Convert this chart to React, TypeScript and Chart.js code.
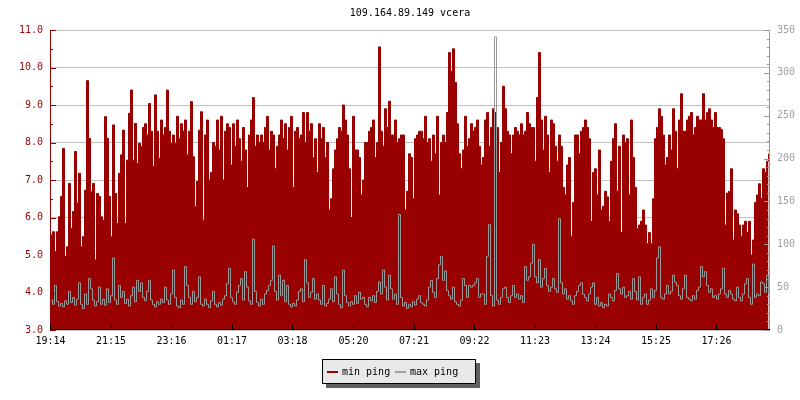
import React, { useEffect, useRef } from "react";
import { Chart, registerables } from "chart.js";

Chart.register(...registerables);

// ---- data -----------------------------------------------------------------
const title = "109.164.89.149 vcera";
const startLabel = "19:14";
const sampleMinutes = 4; // one sample every 4 minutes, 24 h window
const tickLabels = ["19:14", "21:15", "23:16", "01:17", "03:18", "05:20", "07:21", "09:22", "11:23", "13:24", "15:25", "17:26"];
const seriesNames = ["min ping", "max ping"];

// min ping (left axis), 19:14 -> 19:14 next day, split in five blocks
const minPingA = [5.53,5.62,5.09,5.62,6.02,6.56,7.84,4.96,5.22,6.91,5.71,6.16,7.76,6.38,7.18,5.22,5.49,6.73,9.65,8.11,6.69,6.91,4.87,6.64,6.56,6.02,5.93,8.69,8.11,6.56,5.49,8.47,6.64,5.84,7.18,7.67,8.33,5.84,7.53,8.78,9.4,7.53,8.51,7.44,7.98,7.89,8.4,8.5,8.2,9.04,8.3,7.36,9.27,8.3,7.58,8.6,8.2,8.4,9.4,8.3,7.98,8.2,7.98,8.7,8.1,8.5,8.3,8.6,7.67,8.3,9.09,7.62];
const minPingB = [6.29,6.96,8.33,8.82,5.93,8.2,8.6,7.0,7.2,8.0,7.9,8.6,7.8,8.7,7.0,8.3,8.5,8.4,7.4,8.5,7.9,8.6,8.1,7.5,8.4,7.8,6.8,8.2,8.6,9.2,7.9,8.2,8.0,8.2,8.0,8.4,8.7,7.8,8.3,8.2,7.3,7.9,8.2,8.6,8.1,8.5,7.8,8.4,8.7,6.8,8.3,8.4,8.1,8.2,8.8,8.0,8.8,8.3,8.5,7.6,8.1,7.2,8.5,8.1,8.4,7.6,8.0,6.2,6.5,7.3,7.8,8.1];
const minPingC = [8.4,8.3,9.0,8.6,8.2,7.3,6.0,8.7,7.8,7.8,7.6,6.6,7.0,8.0,8.0,8.3,8.4,8.6,7.6,8.0,10.55,8.3,7.9,8.9,8.4,9.1,8.2,8.2,8.6,8.0,8.1,8.2,8.2,6.2,6.7,7.7,7.6,6.5,8.1,8.2,8.3,8.3,8.1,8.7,8.0,8.1,7.5,8.2,7.7,8.7,6.6,8.0,8.2,8.0,8.8,10.4,9.9,10.5,9.6,8.5,7.7,7.3,7.8,8.7,7.9,8.1,8.5,8.3,8.4,8.6,7.9,7.4];
const minPingD = [7.6,8.6,8.8,7.9,8.4,8.9,8.8,8.4,7.2,8.0,9.5,8.9,8.3,8.2,7.7,8.2,8.4,8.3,8.2,8.5,8.2,8.3,8.8,8.5,8.4,8.4,7.5,9.2,10.4,8.6,7.8,8.7,8.2,7.2,8.6,8.5,7.9,7.5,8.2,7.9,6.8,6.6,7.4,7.6,5.5,6.4,8.2,8.2,7.7,8.3,8.4,8.6,8.4,8.1,5.9,7.2,7.3,6.6,7.8,6.2,6.3,6.7,6.55,5.9,7.5,8.1,8.5,6.7,7.9,5.6,8.2,8.0];
const minPingE = [8.1,6.6,8.6,7.6,6.8,5.7,5.8,5.9,6.2,5.8,5.3,5.6,5.3,6.5,8.1,8.4,8.9,8.7,8.2,7.4,7.6,8.2,7.8,8.9,8.3,7.3,8.6,9.3,8.3,8.3,8.6,8.7,8.8,8.2,8.4,8.7,8.6,8.6,9.3,8.6,8.8,8.9,8.6,8.4,8.8,8.4,8.4,8.35,8.1,5.8,6.65,6.7,7.3,5.4,6.2,6.1,5.8,5.5,5.8,5.9,5.6,5.9,5.0,5.4,6.4,6.6,6.9,6.5,7.3,7.2,7.5,7.7];

// max ping (right axis)
const maxPingA = [35,30,52,33,28,31,27,34,30,45,32,38,29,36,55,30,25,42,30,60,48,35,28,33,50,30,36,29,48,32,40,84,35,30,52,38,45,31,36,28,40,50,33,58,45,55,38,34,45,58,35,30,27,33,30,36,32,50,35,30,42,70,38,28,26,35,30,74,52,38,30,45];
const maxPingB = [33,38,62,30,28,36,30,26,34,45,30,27,32,29,36,40,54,72,38,33,30,44,52,60,35,68,50,34,30,106,45,32,28,36,30,42,46,52,58,98,45,35,64,40,58,33,52,30,27,31,28,35,45,48,33,82,55,38,44,60,36,42,35,30,52,28,31,36,48,33,62,42];
const maxPingC = [30,26,70,40,32,28,33,30,40,31,44,36,38,30,27,38,34,40,32,45,56,42,70,50,35,64,48,36,42,30,135,38,28,32,25,30,27,33,29,36,40,32,30,28,35,50,58,44,38,60,76,86,58,69,46,40,36,50,33,30,28,35,60,52,38,52,50,52,55,60,38,42];
const maxPingD = [42,30,86,123,40,28,342,35,30,38,48,50,38,32,40,52,38,42,36,40,32,74,58,62,78,100,62,55,82,50,60,72,52,45,50,60,48,44,130,55,42,48,36,40,34,30,40,45,52,55,42,38,34,42,50,55,30,38,28,32,26,30,28,42,38,34,46,66,48,42,50,38];
const maxPingE = [40,45,36,60,45,35,62,30,38,42,30,35,48,38,46,84,97,38,36,42,52,42,45,64,56,52,40,36,48,64,38,36,34,40,36,46,50,74,62,68,52,44,48,38,40,36,42,48,72,42,38,46,42,36,34,50,38,34,42,54,60,38,30,77,38,42,40,56,54,44,64,42];

const minPing = [...minPingA, ...minPingB, ...minPingC, ...minPingD, ...minPingE];
const maxPing = [...maxPingA, ...maxPingB, ...maxPingC, ...maxPingD, ...maxPingE];

// ---- styling --------------------------------------------------------------
const RED = "#990000";
const GRAY = "#999999";
const FONT = "'DejaVu Sans Mono', monospace";

const toMin = (s: string) => {
  const [h, m] = s.split(":").map(Number);
  return h * 60 + m;
};
const tickValues = tickLabels.map((l) => (toMin(l) - toMin(startLabel) + 1440) % 1440);

const rrdPlugin = {
  id: "rrdDecor",
  afterDatasetsDraw(chart: any) {
    const { ctx, chartArea: a, scales } = chart;
    ctx.save();
    ctx.lineWidth = 1;
    // left axis ticks (inside)
    ctx.strokeStyle = RED;
    for (let v = 3; v <= 11.0001; v += 0.5) {
      const y = Math.round(scales.y.getPixelForValue(v)) + 0.5;
      const len = Math.abs(v - Math.round(v)) < 0.01 ? 6 : 3;
      ctx.beginPath();
      ctx.moveTo(a.left, y);
      ctx.lineTo(a.left + len, y);
      ctx.stroke();
    }
    // right axis ticks (inside)
    ctx.strokeStyle = GRAY;
    for (let v = 0; v <= 350; v += 10) {
      const y = Math.round(scales.y1.getPixelForValue(v)) + 0.5;
      const len = v % 50 === 0 ? 6 : 3;
      ctx.beginPath();
      ctx.moveTo(a.right - len, y);
      ctx.lineTo(a.right, y);
      ctx.stroke();
    }
    // axis lines
    const lx = Math.round(a.left) + 0.5;
    const rx = Math.round(a.right) - 0.5;
    const by = Math.round(a.bottom) - 0.5;
    ctx.strokeStyle = RED;
    ctx.beginPath();
    ctx.moveTo(lx, a.top);
    ctx.lineTo(lx, a.bottom);
    ctx.stroke();
    ctx.strokeStyle = GRAY;
    ctx.beginPath();
    ctx.moveTo(rx, a.top);
    ctx.lineTo(rx, a.bottom);
    ctx.stroke();
    ctx.strokeStyle = "#000";
    ctx.beginPath();
    ctx.moveTo(a.left, by);
    ctx.lineTo(a.right, by);
    ctx.stroke();
    // x ticks
    tickValues.forEach((t) => {
      const x = Math.floor(scales.x.getPixelForValue(t)) + 0.5;
      ctx.beginPath();
      ctx.moveTo(x, by - 5);
      ctx.lineTo(x, by);
      ctx.stroke();
    });
    ctx.restore();
  },
  afterDraw(chart: any) {
    const { ctx } = chart;
    ctx.save();
    const bx = 322, byy = 359, bw = 154, bh = 25;
    ctx.fillStyle = "#606060";
    ctx.fillRect(bx + 4, byy + 4, bw, bh);
    ctx.fillStyle = "#e8e8e8";
    ctx.fillRect(bx, byy, bw, bh);
    ctx.strokeStyle = "#000";
    ctx.lineWidth = 1;
    ctx.strokeRect(bx + 0.5, byy + 0.5, bw - 1, bh - 1);
    ctx.font = `10px ${FONT}`;
    ctx.textBaseline = "middle";
    ctx.textAlign = "left";
    ctx.fillStyle = RED;
    ctx.fillRect(327, 371, 11, 2);
    ctx.fillStyle = "#000";
    ctx.fillText(seriesNames[0], 342, 372);
    ctx.fillStyle = "#a0a0a0";
    ctx.fillRect(395, 371, 11, 2);
    ctx.fillStyle = "#000";
    ctx.fillText(seriesNames[1], 410, 372);
    ctx.restore();
  },
};

export default function App() {
  const ref = useRef<HTMLCanvasElement | null>(null);

  useEffect(() => {
    document.body.style.margin = "0";
    const canvas = ref.current;
    if (!canvas) return;
    Chart.defaults.font.family = FONT;
    Chart.defaults.font.size = 10;

    const chart = new Chart(canvas, {
      type: "line",
      data: {
        datasets: [
          {
            label: seriesNames[1],
            data: maxPing.map((v, i) => ({ x: i * sampleMinutes, y: v })),
            yAxisID: "y1",
            borderColor: GRAY,
            borderWidth: 1,
            pointRadius: 0,
            stepped: "before",
            fill: false,
            order: 0,
          },
          {
            label: seriesNames[0],
            data: minPing.map((v, i) => ({ x: i * sampleMinutes, y: v })),
            yAxisID: "y",
            borderColor: RED,
            backgroundColor: RED,
            borderWidth: 1,
            pointRadius: 0,
            stepped: "before",
            fill: "start",
            order: 1,
          },
        ],
      },
      options: {
        responsive: false,
        animation: false,
        layout: { padding: { top: 0, left: 0, right: 0, bottom: 50 } },
        plugins: {
          legend: { display: false },
          tooltip: { enabled: false },
          title: {
            display: true,
            text: title,
            color: "#000",
            fullSize: false,
            font: { family: FONT, size: 10, weight: "normal" },
            padding: { top: 7, bottom: 11 },
          },
        },
        scales: {
          x: {
            type: "linear",
            min: -1,
            max: 1439,
            grid: { display: false, drawTicks: false },
            border: { display: false },
            afterBuildTicks: (scale: any) => {
              scale.ticks = tickValues.map((v) => ({ value: v }));
            },
            afterFit: (scale: any) => {
              scale.height = 20;
            },
            ticks: {
              autoSkip: false,
              maxRotation: 0,
              color: "#000",
              padding: 5,
              font: { family: FONT, size: 10 },
              callback: (_v: any, i: number) => tickLabels[i],
            },
          },
          y: {
            position: "left",
            min: 3,
            max: 11,
            grid: { color: "#c0c0c0", drawTicks: false, lineWidth: 1 },
            border: { display: false },
            afterFit: (scale: any) => {
              scale.width = 50;
            },
            ticks: {
              stepSize: 1,
              color: RED,
              padding: 7,
              font: { family: FONT, size: 10 },
              callback: (v: any) => Number(v).toFixed(1),
            },
          },
          y1: {
            position: "right",
            min: 0,
            max: 350,
            grid: { display: false, drawTicks: false },
            border: { display: false },
            afterFit: (scale: any) => {
              scale.width = 30;
            },
            ticks: {
              stepSize: 50,
              color: "#a0a0a0",
              padding: 7,
              font: { family: FONT, size: 10 },
            },
          },
        },
      },
      plugins: [rrdPlugin],
    } as any);

    return () => chart.destroy();
  }, []);

  return (
    <div style={{ position: "absolute", left: 0, top: 0, width: 800, height: 400, background: "#fff" }}>
      <canvas ref={ref} width={800} height={400} />
    </div>
  );
}
